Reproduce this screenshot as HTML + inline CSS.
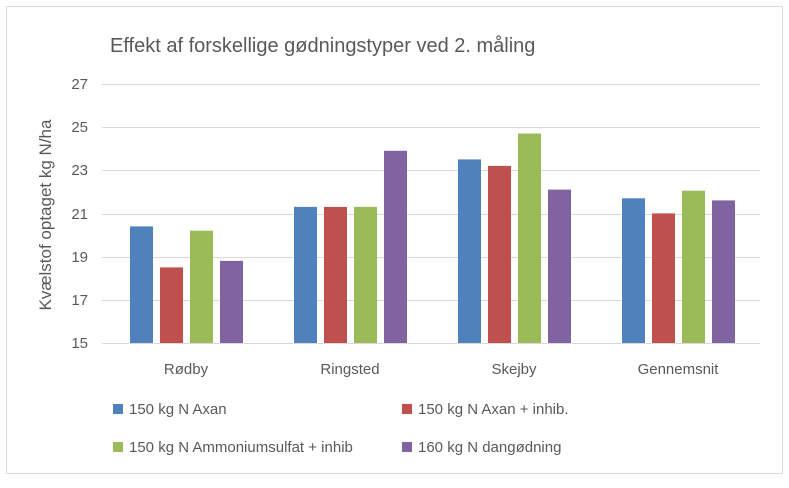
<!DOCTYPE html>
<html><head><meta charset="utf-8"><style>
body{margin:0;background:#fff;width:789px;height:483px;overflow:hidden}
svg{font-family:"Liberation Sans",sans-serif}
</style></head><body>
<svg width="789" height="483" xmlns="http://www.w3.org/2000/svg">
<rect x="6.5" y="6.5" width="776" height="467" fill="#fff" stroke="#d9d9d9"/>
<text x="110" y="52" font-size="20" fill="#595959">Effekt af forskellige gødningstyper ved 2. måling</text>
<g stroke="#d9d9d9" stroke-width="1">
<line x1="102" x2="760" y1="84.5" y2="84.5"/><line x1="102" x2="760" y1="127.5" y2="127.5"/>
<line x1="102" x2="760" y1="170.5" y2="170.5"/><line x1="102" x2="760" y1="214.5" y2="214.5"/>
<line x1="102" x2="760" y1="257.5" y2="257.5"/><line x1="102" x2="760" y1="300.5" y2="300.5"/>
<line x1="102" x2="760" y1="343.5" y2="343.5"/>
</g>
<g font-size="15" fill="#595959" text-anchor="end">
<text x="88" y="89">27</text><text x="88" y="132">25</text><text x="88" y="175">23</text>
<text x="88" y="219">21</text><text x="88" y="262">19</text><text x="88" y="305">17</text><text x="88" y="348">15</text>
</g>
<text transform="translate(51,215) rotate(-90)" font-size="17" fill="#595959" text-anchor="middle">Kvælstof optaget kg N/ha</text>
<g>
<rect x="130" y="226.4" width="23" height="116.6" fill="#4F81BD"/>
<rect x="160" y="267.4" width="23" height="75.6" fill="#C0504D"/>
<rect x="190" y="230.7" width="23" height="112.3" fill="#9BBB59"/>
<rect x="220" y="260.9" width="23" height="82.1" fill="#8064A2"/>
<rect x="294" y="206.9" width="23" height="136.1" fill="#4F81BD"/>
<rect x="324" y="206.9" width="23" height="136.1" fill="#C0504D"/>
<rect x="354" y="206.9" width="23" height="136.1" fill="#9BBB59"/>
<rect x="384" y="150.8" width="23" height="192.2" fill="#8064A2"/>
<rect x="458" y="159.4" width="23" height="183.6" fill="#4F81BD"/>
<rect x="488" y="165.9" width="23" height="177.1" fill="#C0504D"/>
<rect x="518" y="133.5" width="23" height="209.5" fill="#9BBB59"/>
<rect x="548" y="189.6" width="23" height="153.4" fill="#8064A2"/>
<rect x="622" y="198.3" width="23" height="144.7" fill="#4F81BD"/>
<rect x="652" y="213.4" width="23" height="129.6" fill="#C0504D"/>
<rect x="682" y="190.7" width="23" height="152.3" fill="#9BBB59"/>
<rect x="712" y="200.4" width="23" height="142.6" fill="#8064A2"/>
</g>
<g font-size="15" fill="#595959" text-anchor="middle">
<text x="186" y="374">Rødby</text><text x="350" y="374">Ringsted</text><text x="514" y="374">Skejby</text><text x="678" y="374">Gennemsnit</text>
</g>
<g font-size="15" fill="#595959">
<rect x="113" y="404" width="10" height="10" fill="#4F81BD"/><text x="129" y="414">150 kg N Axan</text>
<rect x="402" y="404" width="10" height="10" fill="#C0504D"/><text x="418" y="414">150 kg N Axan + inhib.</text>
<rect x="113" y="442" width="10" height="10" fill="#9BBB59"/><text x="129" y="452">150 kg N Ammoniumsulfat + inhib</text>
<rect x="402" y="442" width="10" height="10" fill="#8064A2"/><text x="418" y="452">160 kg N dangødning</text>
</g>
</svg>
</body></html>
